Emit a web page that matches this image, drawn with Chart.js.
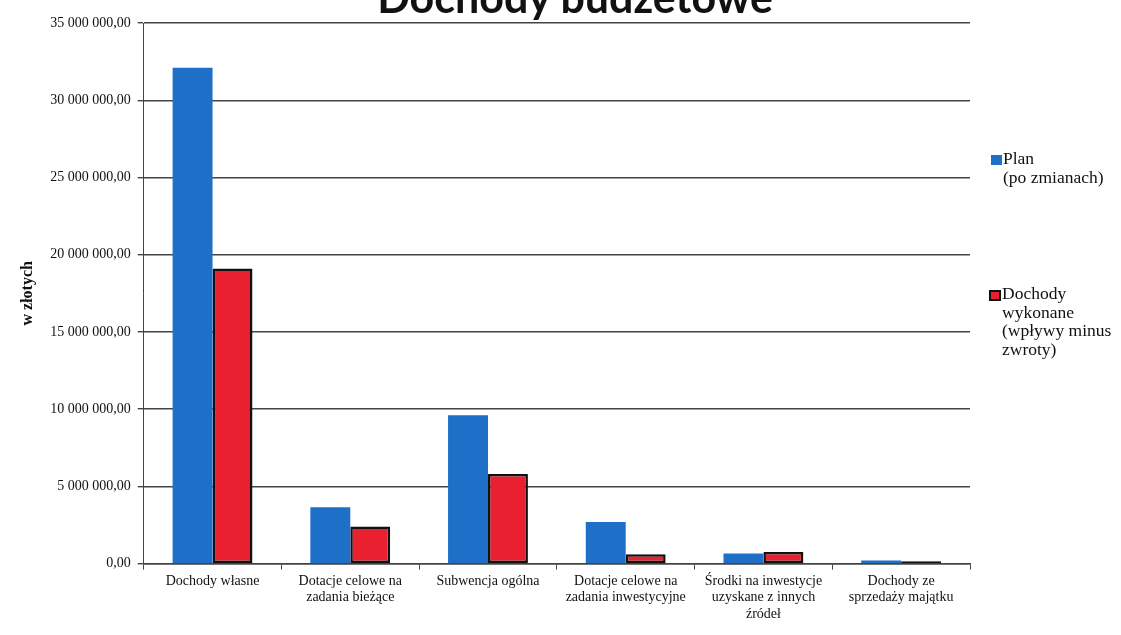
<!DOCTYPE html>
<html>
<head>
<meta charset="utf-8">
<script src="https://cdn.jsdelivr.net/npm/chart.js@4/dist/chart.umd.min.js"></script>
<style>
  body { margin:0; background:#fff; }
  #wrap { position:relative; width:1121px; height:635px; overflow:hidden; }
  #box { position:absolute; left:0; top:0; width:1121px; height:635px; }
  #tytul { position:absolute; left:375px; width:400px; top:-25px; text-align:center; white-space:nowrap;
           font-family:Lato, sans-serif; font-weight:bold; font-size:43px; line-height:43px; color:#111; }
  .leg { position:absolute; font-family:"Liberation Serif", serif; font-size:17.5px; line-height:18.5px; color:#111; }
  .sw { position:absolute; width:11px; height:10px; }
</style>
</head>
<body>
<div id="wrap">
  <div id="box"><canvas id="chart"></canvas></div>
  <div id="tytul">Dochody budżetowe</div>
  <div class="sw" style="left:991px;top:155px;background:#1e6fc8"></div>
  <div class="leg" style="left:1003px;top:149px">Plan<br>(po zmianach)</div>
  <div class="sw" style="left:989px;top:290px;background:#e8202f;border:2px solid #111;width:8px;height:7px"></div>
  <div class="leg" style="left:1002px;top:284px">Dochody<br>wykonane<br>(wpływy minus<br>zwroty)</div>
</div>
<script>
// kategorie dochodow
var kategorie = [
  ['Dochody własne'],
  ['Dotacje celowe na', 'zadania bieżące'],
  ['Subwencja ogólna'],
  ['Dotacje celowe na', 'zadania inwestycyjne'],
  ['Środki na inwestycje', 'uzyskane z innych', 'źródeł'],
  ['Dochody ze', 'sprzedaży majątku']
];
var plan = [32100000, 3650000, 9600000, 2700000, 650000, 200000];
var wykonane = [19100000, 2400000, 5800000, 600000, 750000, 150000];

function fmt(v){
  var s = Math.round(v).toString().replace(/\B(?=(\d{3})+(?!\d))/g, ' ');
  return s + ',00';
}

new Chart(document.getElementById('chart').getContext('2d'), {
  type: 'bar',
  data: {
    labels: kategorie,
    datasets: [{
        label: 'Plan (po zmianach)',
        data: plan,
        backgroundColor: '#1e6fc8',
        borderWidth: 0
      }, {
        label: 'Dochody wykonane (wpływy minus zwroty)',
        data: wykonane,
        backgroundColor: '#e8202f',
        borderColor: '#111',
        borderWidth: 2.5,
        borderSkipped: false
      }]
  },
  options: {
    responsive: true,
    maintainAspectRatio: false,
    animation: false,
    layout: { padding: { left: 12, right: 151, top: 23, bottom: 9 } },
    datasets: { bar: { categoryPercentage: 0.58, barPercentage: 1 } },
    plugins: {
      legend: { display: false },
      tooltip: { enabled: false },
      title: { display: false }
    },
    scales: {
      x: {
        grid: { drawOnChartArea: false, drawTicks: true, tickLength: 6, color: '#444' },
        border: { color: '#444', width: 1.5 },
        ticks: {
          color: '#111',
          maxRotation: 0,
          autoSkip: false,
          padding: 3,
          font: { family: 'Liberation Serif', size: 14, lineHeight: 1.2 }
        }
      },
      y: {
        min: 0,
        max: 35000000,
        ticks: {
          stepSize: 5000000,
          color: '#111',
          padding: 7,
          font: { family: 'Liberation Serif', size: 14 },
          callback: function(v){ return fmt(v); }
        },
        grid: { color: '#444', lineWidth: 1.4, tickLength: 6 },
        border: { color: '#444', width: 1 },
        title: {
          display: true,
          text: 'w złotych',
          color: '#111',
          padding: 6,
          font: { family: 'Liberation Serif', size: 16, weight: 'bold' }
        }
      }
    }
  }
});
</script>
</body>
</html>
